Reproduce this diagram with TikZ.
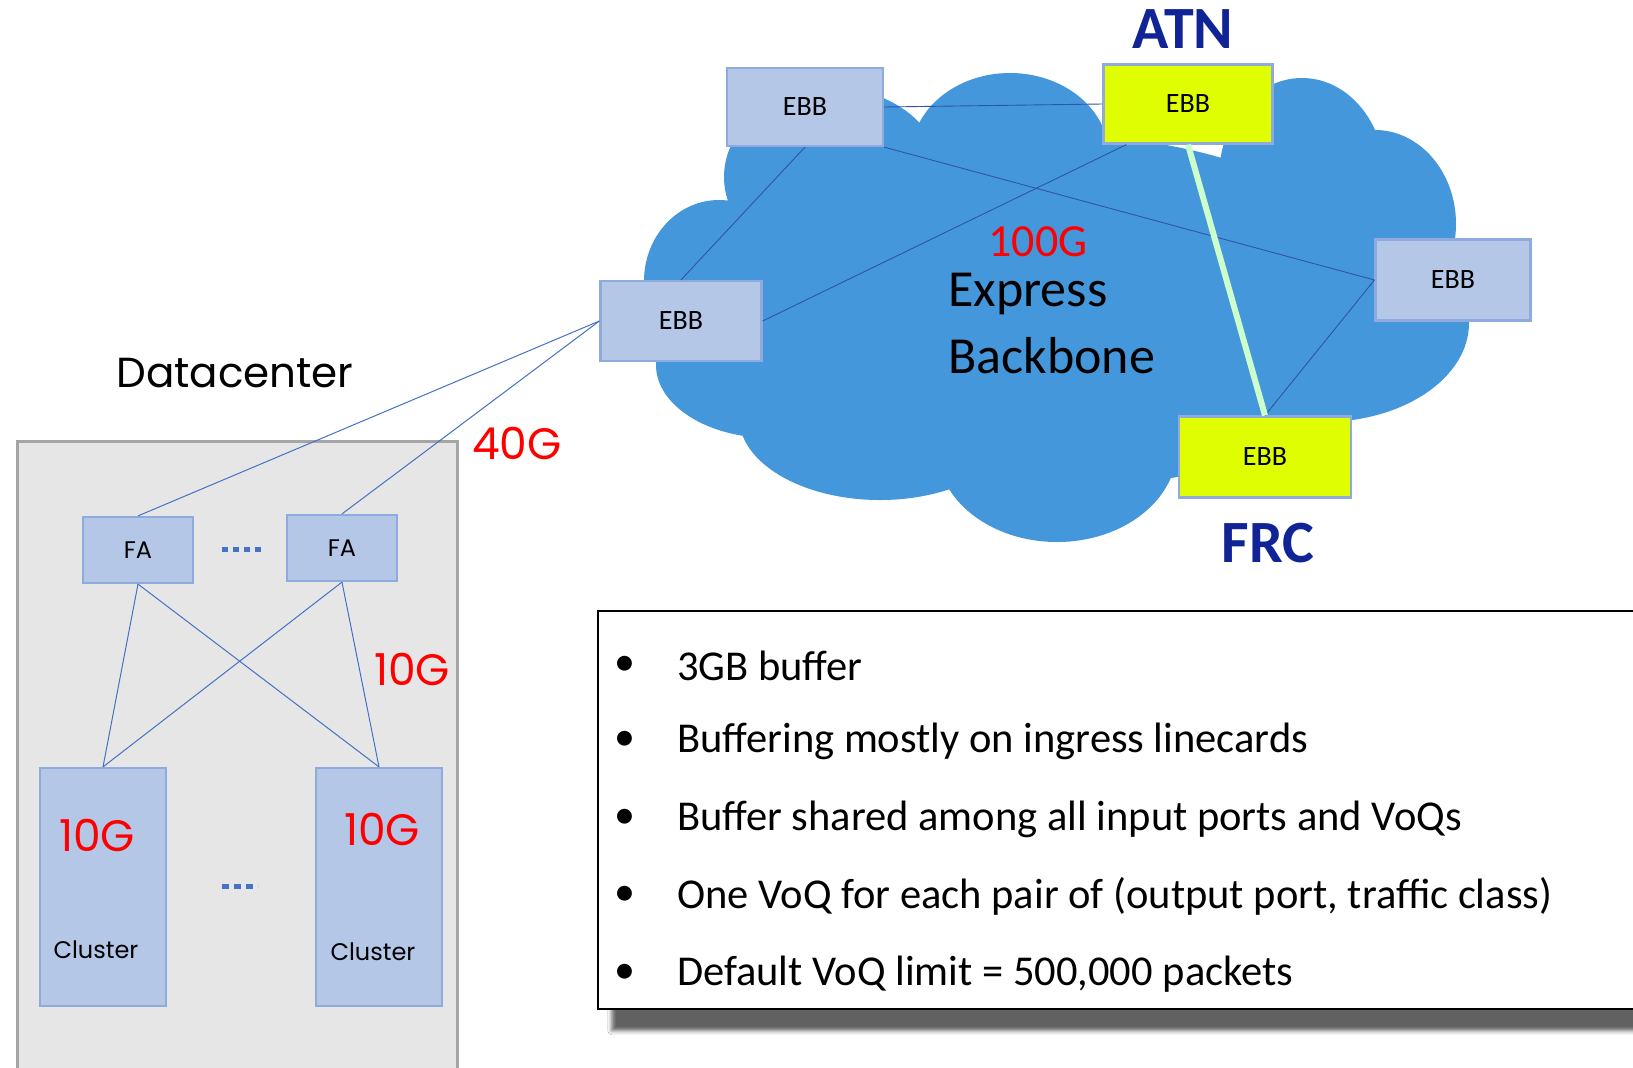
\documentclass[tikz,border=0pt]{standalone}
\usepackage{fontspec}
\setmainfont{Carlito}
\newfontfamily\geo{Poppins}
\usetikzlibrary{shadows.blur,calc}
\definecolor{cloudblue}{RGB}{69,151,220}
\definecolor{boxblue}{RGB}{180,199,231}
\definecolor{boxedge}{RGB}{143,170,220}
\definecolor{ebbyellow}{RGB}{223,255,0}
\definecolor{linkblue}{RGB}{68,114,196}
\definecolor{darklink}{RGB}{47,85,164}
\definecolor{linkgreen}{RGB}{204,255,204}
\definecolor{labelnavy}{RGB}{16,36,150}
\definecolor{grayfill}{RGB}{231,230,230}
\definecolor{grayedge}{RGB}{165,165,165}
\begin{document}
\begin{tikzpicture}[x=1pt,y=-1pt,
  ebb/.style={draw=boxedge, line width=2.2pt, fill=boxblue, minimum width=156pt, minimum height=78pt, inner sep=0pt, font=\fontsize{28}{30}\selectfont},
  ebbhot/.style={ebb, fill=ebbyellow},
  fabox/.style={draw=boxedge, line width=2.2pt, fill=boxblue, minimum width=110pt, minimum height=66pt, inner sep=0pt, font=\geo\fontsize{24}{26}\selectfont},
  clusterbox/.style={draw=boxedge, line width=2.2pt, fill=boxblue, minimum width=126pt, minimum height=238pt, inner sep=0pt},
  link/.style={draw=linkblue, line width=1pt},
  bblink/.style={draw=darklink, line width=0.9pt},
  rate/.style={text=red, font=\geo\fontsize{44}{48}\selectfont, inner sep=0pt},
  site/.style={text=labelnavy, font=\bfseries\fontsize{60}{64}\selectfont, inner sep=0pt},
  bulletitem/.style={anchor=west, font=\fontsize{42.5}{46}\selectfont, inner sep=0pt},
  bulletdot/.style={font=\fontsize{42}{46}\selectfont, inner sep=0pt}
]
\useasboundingbox (0,0) rectangle (1633,1068);
\fill[white] (0,0) rectangle (1633,1068);

% cloud
\fill[cloudblue]
  (1052,312) ellipse [x radius=344pt, y radius=177pt]
  (719,281) ellipse [x radius=75pt, y radius=81pt]
  (771,365) ellipse [x radius=115pt, y radius=73pt]
  (880,417) ellipse [x radius=141pt, y radius=83pt]
  (1057,448) ellipse [x radius=120pt, y radius=94pt]
  (1323,323) ellipse [x radius=146pt, y radius=99pt]
  (1375,224) ellipse [x radius=81pt, y radius=94pt]
  (1302,177) ellipse [x radius=83pt, y radius=99pt]
  (1010,156) ellipse [x radius=99pt, y radius=83pt]
  (833,177) ellipse [x radius=109pt, y radius=89pt];

% datacenter area
\draw[grayedge, fill=grayfill, line width=3pt] (17,441) rectangle (457,1080);
\node[font=\geo\fontsize{42}{46}\selectfont, inner sep=0pt] (dc) at (235,373) {Datacenter};

% text box
\node[draw=black, line width=1.5pt, fill=white, minimum width=1050pt, minimum height=398pt, anchor=north west, inner sep=0pt,
  blur shadow={shadow xshift=14pt, shadow yshift=-22pt, shadow blur radius=4pt, shadow opacity=62}] (info) at (597,610) {};

% EBB nodes
\node[ebb] (ebbA) at (805,107) {EBB};
\node[ebbhot, minimum width=169pt, minimum height=79pt] (atn) at (1188,104) {EBB};
\node[ebb, minimum width=155pt, minimum height=81pt] (ebbR) at (1453,280) {EBB};
\node[ebb, minimum width=161pt, minimum height=80pt] (ebbL) at (681,321) {EBB};
\node[ebbhot, minimum width=172pt, minimum height=81pt] (frc) at (1265,457) {EBB};

% backbone links
\draw[bblink] (ebbA.east) -- (atn.west);
\draw[bblink] (ebbA.south) -- (ebbL.north);
\draw[bblink] (ebbA.south east) -- (ebbR.west);
\draw[bblink] ($(atn.south west)+(24,0)$) -- (ebbL.east);
\draw[bblink] (ebbR.west) -- (frc.north);
\draw[linkgreen, line width=6pt] (atn.south) -- (frc.north);

% labels on the cloud
\node[site] (atnlabel) at (1183,29) {ATN};
\node[site] (frclabel) at (1268,543) {FRC};
\node[text=red, font=\fontsize{46}{50}\selectfont, inner sep=0pt] (r100) at (1038,242) {100G};
\node[anchor=west, font=\fontsize{52}{56}\selectfont, inner sep=0pt] (express) at (948,294) {Express};
\node[anchor=west, font=\fontsize{52}{56}\selectfont, inner sep=0pt] (backbone) at (948,356) {Backbone};

% datacenter nodes
\node[fabox] (fa1) at (138,550) {FA};
\node[fabox] (fa2) at (342,548) {FA};
\node[clusterbox] (cl1) at (103,887) {};
\node[clusterbox] (cl2) at (379,887) {};
\node[rate] (c1rate) at (97,835) {10G};
\node[rate] (c2rate) at (382,829) {10G};
\node[font=\geo\fontsize{24}{26}\selectfont, inner sep=0pt] (c1lab) at (96,950) {Cluster};
\node[font=\geo\fontsize{24}{26}\selectfont, inner sep=0pt] (c2lab) at (373,952) {Cluster};
\draw[linkblue, line width=5pt, dash pattern=on 6pt off 5pt] (222,549) -- (264,549);
\draw[linkblue, line width=5pt, dash pattern=on 7pt off 5pt] (222,886) -- (258,886);

% datacenter links
\draw[link] (ebbL.west) -- (fa1.north);
\draw[link] (ebbL.west) -- (fa2.north);
\draw[link] (fa1.south) -- (cl1.north);
\draw[link] (fa1.south) -- (cl2.north);
\draw[link] (fa2.south) -- (cl1.north);
\draw[link] (fa2.south) -- (cl2.north);
\node[rate] (r40) at (517,443) {40G};
\node[rate] (r10) at (412,669) {10G};

% bullet list
\foreach \y/\t [count=\i] in {666/3GB buffer, 741/Buffering mostly on ingress linecards, 819/Buffer shared among all input ports and VoQs, 896/{One VoQ for each pair of (output port, traffic class)}, 974/{Default VoQ limit = 500,000 packets}} {
  \node[bulletdot] (dot\i) at (625,\y) {•};
  \node[bulletitem] (item\i) at (677,\y) {\t};
}
\end{tikzpicture}
\end{document}
